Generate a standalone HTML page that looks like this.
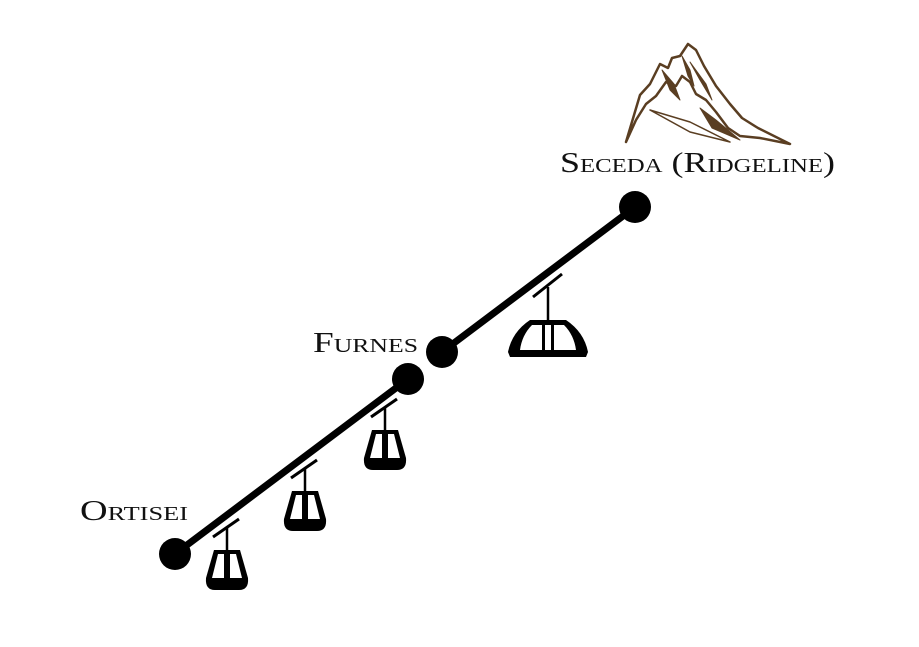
<!DOCTYPE html>
<html><head><style>
html,body{margin:0;padding:0;background:#fff;}
svg{display:block;}
text{font-family:"Liberation Serif",serif;font-variant:small-caps;fill:#111;}
</style></head><body>
<svg width="919" height="647" viewBox="0 0 919 647">
<g fill="#5a3e22" stroke="#5a3e22" stroke-linejoin="round">
<path d="M626,142 L640,95 L650,84 L660,64 L668,68 L672,58 L680,56 L688,44 L696,50 L704,66 L716,86 L730,104 L742,118 L758,128 L790,144 L760,138 L740,136 L728,128 L716,112 L706,100 L696,94 L690,82 L682,76 L676,86 L666,82 L656,96 L646,104 L636,120 Z" fill="none" stroke-width="2.5"/>
<path d="M700,108 L716,120 L740,140 L712,128 Z"/>
<path d="M690,62 L700,80 L712,100 L706,84 Z"/>
<path d="M662,70 L670,90 L680,100 L674,84 Z"/>
<path d="M650,110 L690,122 L730,142 L690,132 Z" fill="none" stroke-width="1.5"/>
<path d="M682,56 L690,70 L694,86 L688,76 Z"/>
</g>
<text x="560" y="172" font-size="29" textLength="275" lengthAdjust="spacingAndGlyphs">Seceda (Ridgeline)</text>
<text x="313" y="352" font-size="29" textLength="105" lengthAdjust="spacingAndGlyphs">Furnes</text>
<text x="80" y="520" font-size="29" textLength="108" lengthAdjust="spacingAndGlyphs">Ortisei</text>
<g stroke="#000" stroke-width="7" stroke-linecap="round">
<line x1="175" y1="554" x2="408" y2="379"/>
<line x1="442" y1="352" x2="635" y2="207"/>
</g>
<g fill="#000">
<circle cx="175" cy="554" r="16"/>
<circle cx="408" cy="379" r="16"/>
<circle cx="442" cy="352" r="16"/>
<circle cx="635" cy="207" r="16"/>
</g>
<defs>
<g id="g">
<line x1="-14" y1="-13" x2="12" y2="-31" stroke="#000" stroke-width="3"/>
<line x1="0" y1="-22" x2="0" y2="0" stroke="#000" stroke-width="2.5"/>
<path d="M-13,0 L13,0 L21,28 Q22,40 12,40 L-12,40 Q-22,40 -21,28 Z" fill="#000"/>
<path d="M-9,4 L-3,4 L-3,28 L-15,28 Z M3,4 L9,4 L15,28 L3,28 Z" fill="#fff"/>
</g>
</defs>
<use href="#g" x="227" y="550"/>
<use href="#g" x="305" y="491"/>
<use href="#g" x="385" y="430"/>
<line x1="533" y1="297" x2="562" y2="274" stroke="#000" stroke-width="3"/>
<line x1="548" y1="287" x2="548" y2="322" stroke="#000" stroke-width="2.5"/>
<path d="M530,320 L566,320 Q584,332 588,352 L586,357 L510,357 L508,352 Q512,332 530,320 Z" fill="#000"/>
<path d="M532,325 L542,325 L542,350 L520,350 Q522,335 532,325 Z M554,325 L564,325 Q574,335 576,350 L554,350 Z" fill="#fff"/>
<rect x="545" y="325" width="6" height="25" fill="#fff"/>
</svg>
</body></html>
